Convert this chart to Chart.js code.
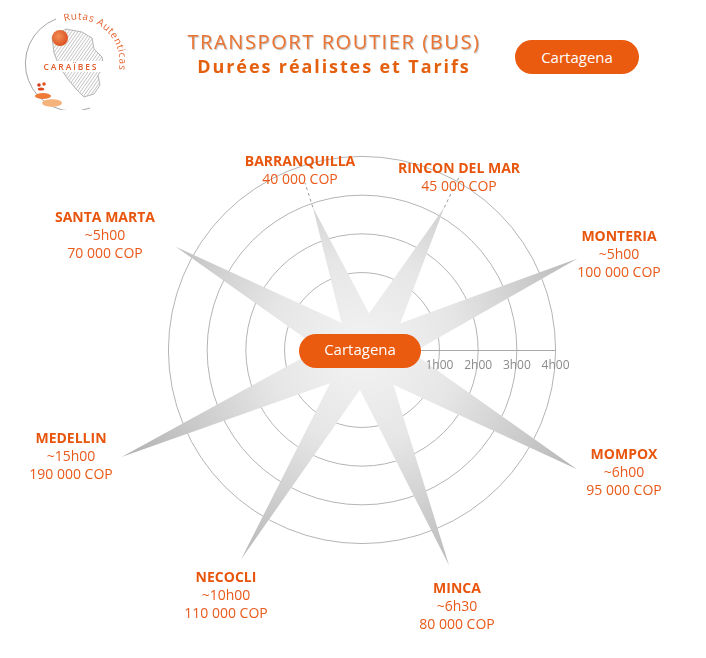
<!DOCTYPE html>
<html>
<head>
<meta charset="utf-8">
<script src="https://cdn.jsdelivr.net/npm/chart.js@4.4.1/dist/chart.umd.min.js"></script>
<style>
  html, body { margin: 0; padding: 0; background: #fff; }
  #wrap { position: relative; width: 706px; height: 658px; overflow: hidden; font-family: "Open Sans", "Noto Sans", sans-serif; }
  #c { position: absolute; left: 0; top: 0; }
  #logo { position: absolute; left: 20px; top: 5px; }
  #title { position: absolute; left: 134px; width: 400px; top: 30px; text-align: center; }
  #t1 { color: #EC7430; font-size: 20px; font-weight: 400; letter-spacing: 1.6px; line-height: 24px; text-shadow: 1px 1px 1px rgba(0,0,0,0.28); }
  #t2 { color: #E4600F; font-size: 18px; font-weight: 700; letter-spacing: 1.9px; line-height: 24px; }
  #pill { position: absolute; left: 515px; top: 40px; width: 124px; height: 34px; border-radius: 17px; background: #EA5A0F; color: #fff; font-size: 15px; line-height: 34px; text-align: center; }
</style>
</head>
<body>
<div id="wrap">
  <canvas id="c" width="706" height="658"></canvas>
  <svg id="logo" width="110" height="105" viewBox="0 0 110 105">
    <defs>
      <pattern id="hatch" width="2.6" height="2.6" patternUnits="userSpaceOnUse" patternTransform="rotate(35)">
        <line x1="0" y1="0" x2="0" y2="2.6" stroke="#8e8e8e" stroke-width="0.9"/>
      </pattern>
      <radialGradient id="blob" cx="0.4" cy="0.4" r="0.7">
        <stop offset="0" stop-color="#F29055"/>
        <stop offset="1" stop-color="#D8491A"/>
      </radialGradient>
      <path id="txtArc" d="M 44.5 16.5 A 42 42 0 0 1 93.5 78"/>
    </defs>
    <path d="M 36 14 A 47 47 0 0 0 70 103" fill="none" stroke="#9b9b9b" stroke-width="0.9"/>
    <path d="M 32 32 L 46 24 L 62 27 L 72 33 L 74 44 L 82 52 L 84 62 L 78 70 L 80 80 L 74 89 L 64 92 L 56 84 L 47 73 L 39 61 L 34 48 Z" fill="url(#hatch)" stroke="#9a9a9a" stroke-width="0.7"/>
    <circle cx="40" cy="33" r="8" fill="url(#blob)"/>
    <rect x="26" y="56" width="62" height="11" fill="#fff"/>
    <text x="51" y="65" text-anchor="middle" font-family="Open Sans, sans-serif" font-size="8.5" font-weight="600" letter-spacing="1.9" fill="#E05A2A">CARAÏBES</text>
    <text font-family="Open Sans, sans-serif" font-size="10" letter-spacing="0.6" fill="#E2622E"><textPath href="#txtArc">Rutas Autenticas</textPath></text>
    <circle cx="19" cy="80" r="1.8" fill="#D43A1A"/>
    <circle cx="24" cy="79" r="1.8" fill="#E2541B"/>
    <ellipse cx="21" cy="84" rx="3.2" ry="1.6" fill="#E0461B"/>
    <ellipse cx="23" cy="91" rx="8" ry="3" fill="#EE7A35"/>
    <ellipse cx="32" cy="98" rx="10" ry="3.8" fill="#F5B27A"/>
  </svg>
  <div id="title">
    <div id="t1">TRANSPORT ROUTIER (BUS)</div>
    <div id="t2">Durées réalistes et Tarifs</div>
  </div>
  <div id="pill">Cartagena</div>
</div>
<script>
// ---- data ----
const hub = 'Cartagena';
const destinations = ['BARRANQUILLA', 'RINCON DEL MAR', 'MONTERIA', 'MOMPOX', 'MINCA', 'NECOCLI', 'MEDELLIN', 'SANTA MARTA'];
const durations = ['', '', '~5h00', '~6h00', '~6h30', '~10h00', '~15h00', '~5h00'];
const prices = ['40 000 COP', '45 000 COP', '100 000 COP', '95 000 COP', '80 000 COP', '110 000 COP', '190 000 COP', '70 000 COP'];
// drawn spike direction (degrees clockwise from north) and length (in scale hours)
const spikeAngle = [341, 30, 67, 119, 158, 210, 246, 299];
const spikeLength = [2.9, 3.25, 5.05, 5.35, 5.0, 5.25, 5.8, 4.5];
// the valley that follows each spike (clockwise): direction and depth
const valleyAngle = [11, 55, 93, 138, 183, 224, 272, 323];
const valleyDepth = [-0.04, 0.21, 0.3, 0.21, 0.03, 0.19, 0.1, -0.12];
const tickValues = [1, 2, 3, 4];
const tickLabels = ['1h00', '2h00', '3h00', '4h00'];

// ---- layout (label placement relative to chart centre) ----
const labelOffsets = [[-62, -188], [97, -181], [257, -113], [262, 105], [95, 239], [-136, 228], [-291, 89], [-257, -132]];
const leaderEnds = [[-57, -167], [98, -175], null, null, null, null, null, null];

// one radial slot per degree; spikes and valleys fill their slots, the rest stay empty
const radarLabels = Array.from({ length: 360 }, () => '');
const radarData = Array.from({ length: 360 }, () => null);
destinations.forEach((d, i) => {
  radarLabels[spikeAngle[i]] = d;
  radarData[spikeAngle[i]] = spikeLength[i];
  radarData[valleyAngle[i]] = valleyDepth[i];
});

const orange = '#E9591A';

const overlay = {
  id: 'overlay',
  afterDraw(chart) {
    const s = chart.scales.r;
    const ctx = chart.ctx;
    const cx = s.xCenter, cy = s.yCenter;
    ctx.save();
    // horizontal time axis
    ctx.strokeStyle = '#a8a8a8';
    ctx.lineWidth = 1;
    ctx.beginPath();
    ctx.moveTo(cx, cy + 0.5);
    ctx.lineTo(cx + s.getDistanceFromCenterForValue(tickValues[tickValues.length - 1]), cy + 0.5);
    ctx.stroke();
    // tick labels
    ctx.fillStyle = '#8a8a8a';
    ctx.font = '12px "Open Sans", sans-serif';
    ctx.textAlign = 'center';
    ctx.textBaseline = 'middle';
    tickValues.forEach((v, i) => {
      ctx.fillText(tickLabels[i], cx + s.getDistanceFromCenterForValue(v), cy + 16);
    });
    // dashed leaders
    ctx.strokeStyle = '#9a9a9a';
    ctx.setLineDash([3, 3]);
    destinations.forEach((d, i) => {
      const e = leaderEnds[i];
      if (!e) return;
      const p = s.getPointPositionForValue(spikeAngle[i], spikeLength[i]);
      ctx.beginPath();
      ctx.moveTo(p.x, p.y);
      ctx.lineTo(cx + e[0], cy + e[1]);
      ctx.stroke();
    });
    ctx.setLineDash([]);
    // destination labels
    destinations.forEach((d, i) => {
      const x = cx + labelOffsets[i][0];
      let y = cy + labelOffsets[i][1];
      ctx.fillStyle = '#E8560E';
      ctx.font = 'bold 14px "Open Sans", sans-serif';
      ctx.fillText(d, x, y);
      ctx.fillStyle = orange;
      ctx.font = '14px "Open Sans", sans-serif';
      if (durations[i]) { y += 18; ctx.fillText(durations[i], x, y); }
      y += 18; ctx.fillText(prices[i], x, y);
    });
    // hub pill
    const w = 122, h = 34;
    ctx.fillStyle = '#EA5A0F';
    ctx.beginPath();
    ctx.roundRect(cx - w / 2 - 2, cy - h / 2 + 1, w, h, h / 2);
    ctx.fill();
    ctx.fillStyle = '#fff';
    ctx.font = '15px "Open Sans", sans-serif';
    ctx.fillText(hub, cx - 2, cy + 1);
    ctx.restore();
  }
};

new Chart(document.getElementById('c'), {
  type: 'radar',
  data: {
    labels: radarLabels,
    datasets: [{
      data: radarData,
      spanGaps: true,
      fill: 'start',
      borderWidth: 0,
      pointRadius: 0,
      pointHoverRadius: 0,
      tension: 0,
      backgroundColor: (c) => {
        const s = c.chart.scales && c.chart.scales.r;
        if (!s || !isFinite(s.xCenter) || !s.drawingArea) return '#dddddd';
        const g = c.chart.ctx.createRadialGradient(s.xCenter, s.yCenter, 0, s.xCenter, s.yCenter, s.drawingArea);
        g.addColorStop(0, '#f3f3f3');
        g.addColorStop(0.35, '#e6e6e6');
        g.addColorStop(1, '#aeaeae');
        return g;
      }
    }]
  },
  options: {
    responsive: false,
    animation: false,
    layout: { padding: { left: 91, right: 73, top: 79, bottom: 37 } },
    plugins: { legend: { display: false }, tooltip: { enabled: false } },
    scales: {
      r: {
        z: 1,
        min: -1,
        max: 6,
        startAngle: 0,
        afterBuildTicks: (scale) => { scale.ticks = tickValues.map(v => ({ value: v })); },
        ticks: { display: false },
        grid: { circular: true, color: '#b4b4b4', lineWidth: 1 },
        angleLines: { display: false },
        pointLabels: { display: false }
      }
    }
  },
  plugins: [overlay]
});
</script>
</body>
</html>
